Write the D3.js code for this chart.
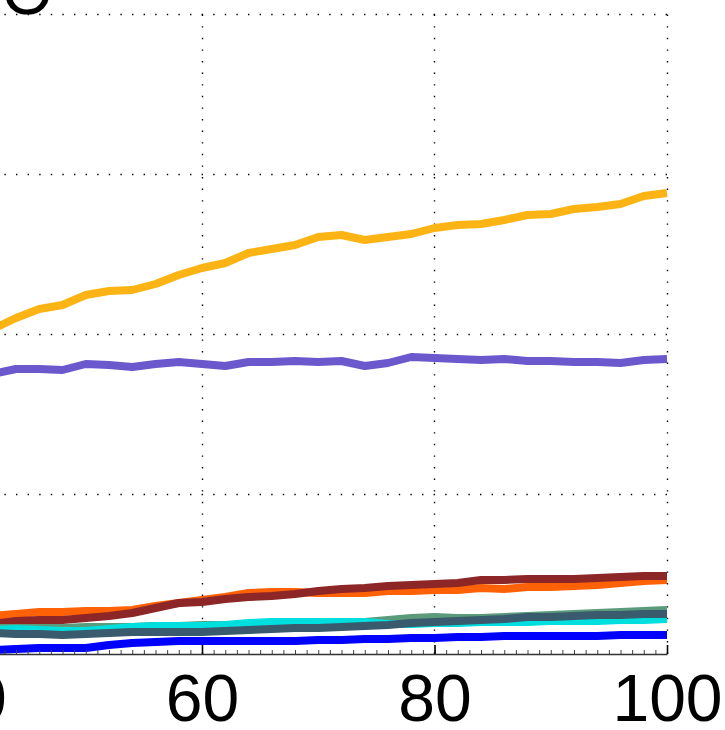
<!DOCTYPE html>
<html>
<head>
<meta charset="utf-8">
<script src="https://cdn.jsdelivr.net/npm/d3@7"></script>
<style>
  body { margin: 0; background: #fff; }
  svg { display: block; }
</style>
</head>
<body>
<svg width="725" height="730"></svg>
<script>
const steps = [42, 44, 46, 48, 50, 52, 54, 56, 58, 60, 62, 64, 66, 68, 70,
  72, 74, 76, 78, 80, 82, 84, 86, 88, 90, 92, 94, 96, 98, 100];

const gold = [32.5, 33.6, 34.5, 34.9, 35.9, 36.3, 36.4, 37.0, 37.9, 38.6, 39.1, 40.1, 40.5, 40.9, 41.7,
  41.9, 41.4, 41.7, 42.0, 42.6, 42.9, 43.0, 43.4, 43.9, 44.0, 44.5, 44.7, 45.0, 45.8, 46.1];
const purple = [28.0, 28.5, 28.5, 28.4, 29.0, 28.9, 28.7, 29.0, 29.2, 29.0, 28.8, 29.2, 29.2, 29.3, 29.2,
  29.3, 28.8, 29.1, 29.7, 29.6, 29.5, 29.4, 29.5, 29.3, 29.3, 29.2, 29.2, 29.1, 29.4, 29.5];
const orange = [3.8, 4.0, 4.2, 4.2, 4.3, 4.3, 4.4, 4.8, 5.1, 5.4, 5.7, 6.1, 6.2, 6.2, 6.1,
  6.1, 6.1, 6.3, 6.3, 6.4, 6.4, 6.6, 6.5, 6.7, 6.7, 6.8, 6.9, 7.1, 7.3, 7.4];
const darkred = [3.0, 3.3, 3.4, 3.4, 3.6, 3.8, 4.1, 4.6, 5.1, 5.2, 5.5, 5.7, 5.8, 6.0, 6.3,
  6.5, 6.6, 6.8, 6.9, 7.0, 7.1, 7.4, 7.4, 7.5, 7.5, 7.5, 7.6, 7.7, 7.8, 7.8];
const green = [2.6, 2.6, 2.6, 2.6, 2.7, 2.7, 2.7, 2.8, 2.8, 2.9, 2.9, 2.9, 3.0, 3.0, 3.1,
  3.1, 3.2, 3.4, 3.6, 3.7, 3.6, 3.6, 3.7, 3.8, 3.9, 4.0, 4.1, 4.2, 4.3, 4.4];
const cyan = [2.4, 2.5, 2.4, 2.3, 2.3, 2.5, 2.7, 2.8, 2.8, 2.8, 2.9, 3.1, 3.2, 3.2, 3.2,
  3.2, 3.2, 3.0, 3.0, 3.1, 3.1, 3.2, 3.2, 3.2, 3.3, 3.3, 3.3, 3.4, 3.4, 3.5];
const slate = [2.1, 2.0, 2.0, 1.9, 2.0, 2.1, 2.2, 2.2, 2.2, 2.2, 2.3, 2.4, 2.5, 2.6, 2.6,
  2.7, 2.8, 2.9, 3.1, 3.2, 3.3, 3.4, 3.5, 3.7, 3.7, 3.8, 3.9, 3.9, 4.0, 4.0];
const blue = [0.4, 0.5, 0.6, 0.6, 0.6, 0.9, 1.1, 1.2, 1.3, 1.3, 1.3, 1.3, 1.3, 1.3, 1.4,
  1.4, 1.5, 1.5, 1.6, 1.6, 1.7, 1.7, 1.8, 1.8, 1.8, 1.8, 1.8, 1.9, 1.9, 1.9];

const xTicks = [40, 60, 80, 100];
const yTicks = [0, 16, 32, 48, 64];

// drawing order: last one ends up on top
const series = [
  { name: 'gold', values: gold, color: '#fcb415' },
  { name: 'purple', values: purple, color: '#6a58cc' },
  { name: 'orange', values: orange, color: '#ff6106' },
  { name: 'darkred', values: darkred, color: '#8d2627' },
  { name: 'green', values: green, color: '#5b9b7b' },
  { name: 'cyan', values: cyan, color: '#00dede' },
  { name: 'slate', values: slate, color: '#3a5a6d' },
  { name: 'blue', values: blue, color: '#0000ff' },
];

const svg = d3.select('svg');
svg.append('rect').attr('width', 725).attr('height', 730).attr('fill', '#fff');

const x = d3.scaleLinear().domain([40, 100]).range([-30.5, 667]);
const y = d3.scaleLinear().domain([0, 64]).range([654, 14]);

// dotted grid
const grid = svg.append('g').attr('class', 'grid')
  .attr('stroke', '#000')
  .attr('stroke-width', 1.4)
  .attr('stroke-dasharray', '1.4,10.2');

grid.selectAll('line.h')
  .data(yTicks.filter((v) => v > 0))
  .enter()
  .append('line')
  .attr('class', 'h')
  .attr('x1', x(100))
  .attr('x2', x(40))
  .attr('y1', (d) => Math.round(y(d)) + 0.5)
  .attr('y2', (d) => Math.round(y(d)) + 0.5);

grid.selectAll('line.v')
  .data(xTicks.filter((v) => v > 40))
  .enter()
  .append('line')
  .attr('class', 'v')
  .attr('x1', (d) => Math.round(x(d)) + 0.5)
  .attr('x2', (d) => Math.round(x(d)) + 0.5)
  .attr('y1', y(0))
  .attr('y2', y(64));

// big glyph peeking in at the top left
svg.append('text')
  .attr('x', 27.5)
  .attr('y', 14)
  .attr('text-anchor', 'middle')
  .attr('font-family', 'Liberation Sans, Arial, sans-serif')
  .attr('font-size', 66)
  .attr('fill', '#000')
  .text('O');

// lines
const line = d3.line()
  .x((d) => x(d[0]))
  .y((d) => y(d[1]));

svg.append('g')
  .attr('class', 'lines')
  .selectAll('path')
  .data(series)
  .enter()
  .append('path')
  .attr('fill', 'none')
  .attr('stroke', (d) => d.color)
  .attr('stroke-width', 8)
  .attr('stroke-linejoin', 'round')
  .attr('d', (d) => line(steps.map((s, i) => [s, d.values[i]])));

// minor ticks
svg.append('g')
  .attr('transform', `translate(0,${y(0)})`)
  .call(d3.axisBottom(x).tickValues(d3.range(40, 101)).tickSize(-4).tickFormat(''))
  .call((g) => g.select('.domain').remove())
  .selectAll('line')
  .attr('stroke', '#444');

// main x axis
const xAxis = svg.append('g')
  .attr('transform', `translate(0,${y(0)})`)
  .call(d3.axisBottom(x).tickValues(xTicks).tickSize(-9).tickSizeOuter(0).tickPadding(20));

xAxis.select('.domain').attr('stroke', '#333').attr('stroke-width', 1.6);
xAxis.selectAll('.tick line').attr('stroke', '#000').attr('stroke-width', 1.6);
xAxis.selectAll('.tick text')
  .attr('font-family', 'Liberation Sans, Arial, sans-serif')
  .attr('font-size', 66)
  .attr('fill', '#000');
</script>
</body>
</html>
